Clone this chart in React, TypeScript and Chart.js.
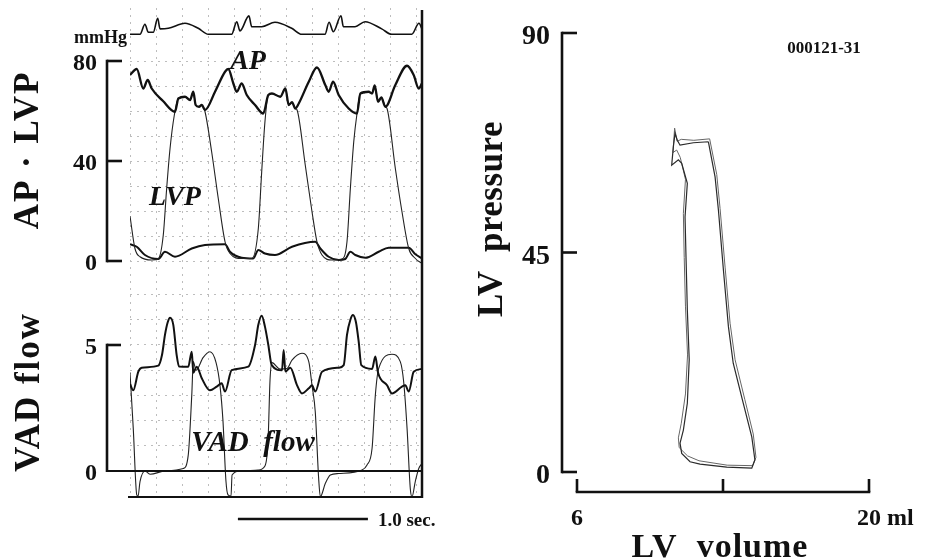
import React, { useEffect, useRef } from "react";
import { Chart, registerables } from "chart.js";

Chart.register(...registerables);

const SERIF = '"Liberation Serif", "Times New Roman", Times, serif';
const INK = "#111111";
const GRID = "#bdbdbd";

// ---------- strip chart (time in seconds) ----------
const ECG_T = [0, 0.077, 0.115, 0.141, 0.179, 0.213, 0.231, 0.295, 0.423, 0.525, 0.602, 0.782, 0.821, 0.846, 0.915, 0.936, 1.013, 1.115, 1.244, 1.321, 1.5, 1.531, 1.564, 1.623, 1.641, 1.731, 1.808, 1.936, 2.013, 2.167, 2.223, 2.246];
const ECG_V = [0, 0, 0.5, 0.1, 0.1, 0.8, 0.27, 0.3, 0.55, 0.3, 0, 0, 0.63, 0.17, 0.92, 0.38, 0.38, 0.6, 0.3, 0, 0, 0.6, 0.13, 0.93, 0.38, 0.38, 0.63, 0.27, 0, 0, 0.55, 0.27];

const AP_T = [0, 0.052, 0.102, 0.136, 0.167, 0.254, 0.346, 0.372, 0.423, 0.462, 0.487, 0.505, 0.531, 0.552, 0.577, 0.654, 0.731, 0.756, 0.795, 0.821, 0.859, 0.898, 0.962, 1.025, 1.064, 1.092, 1.156, 1.195, 1.221, 1.246, 1.272, 1.298, 1.375, 1.438, 1.502, 1.528, 1.562, 1.605, 1.682, 1.746, 1.772, 1.836, 1.862, 1.882, 1.908, 1.933, 1.964, 2.041, 2.131, 2.182, 2.221, 2.246];
const AP_V = [74.4, 76.8, 69, 72.4, 69, 64, 59.7, 65, 65.7, 64.4, 67.7, 62.4, 61.7, 62.4, 60.4, 67.7, 75.7, 76.8, 71, 67.7, 71, 66.4, 62.4, 59, 66.4, 67, 65.7, 69, 62.4, 63.5, 61, 63, 71.7, 77.4, 70.4, 67.7, 71.7, 66.4, 61, 59, 67, 67.7, 67, 70.2, 63.7, 65.4, 61.7, 70.4, 78.1, 74.4, 69, 71];

const LVP_T = [0, 0.038, 0.077, 0.167, 0.218, 0.256, 0.282, 0.308, 0.341, 0.372, 0.423, 0.462, 0.487, 0.505, 0.531, 0.552, 0.577, 0.628, 0.679, 0.731, 0.769, 0.859, 0.936, 0.987, 1.013, 1.038, 1.064, 1.092, 1.156, 1.195, 1.221, 1.246, 1.272, 1.285, 1.348, 1.4, 1.438, 1.477, 1.554, 1.631, 1.669, 1.695, 1.721, 1.746, 1.772, 1.836, 1.862, 1.882, 1.908, 1.933, 1.964, 1.977, 2.041, 2.092, 2.144, 2.195, 2.246];
const LVP_V = [18, 5, 1.7, 0.4, 1, 10.4, 29, 45, 58.4, 65, 65.7, 64.4, 67.7, 62.4, 61.7, 62.4, 59.7, 43.7, 25, 7.7, 3, 1, 1, 13, 35.7, 55.7, 66.4, 67, 65.7, 69, 62.4, 63.5, 61, 60.4, 38.4, 19.7, 7.7, 2.4, 0.4, 0.8, 7.7, 29, 47.7, 59, 67, 67.7, 67, 70.2, 63.7, 65.4, 61.7, 61, 37, 19.7, 5, 1, -1];

const LOW_T = [0, 0.052, 0.115, 0.218, 0.269, 0.346, 0.475, 0.577, 0.731, 0.769, 0.859, 0.948, 0.987, 1.038, 1.115, 1.246, 1.425, 1.464, 1.528, 1.605, 1.656, 1.695, 1.733, 1.81, 1.913, 1.99, 2.144, 2.195, 2.246];
const LOW_V = [6.7, 5.7, 2.4, 0.8, 3.7, 1.7, 5, 6.4, 6.7, 3.7, 1.3, 1, 4.4, 3, 2.4, 5.7, 7.7, 5, 1.7, 0.4, 0.8, 3.7, 2.4, 1.3, 3.7, 5.3, 5.3, 2.7, 1];

const FLOW_THICK_T = [0, 0.025, 0.064, 0.09, 0.218, 0.246, 0.269, 0.29, 0.308, 0.333, 0.359, 0.377, 0.448, 0.475, 0.487, 0.513, 0.552, 0.615, 0.667, 0.705, 0.731, 0.782, 0.91, 0.962, 0.987, 1.013, 1.038, 1.064, 1.09, 1.169, 1.182, 1.195, 1.233, 1.285, 1.323, 1.375, 1.4, 1.425, 1.477, 1.605, 1.644, 1.669, 1.695, 1.715, 1.738, 1.759, 1.779, 1.862, 1.887, 1.908, 1.977, 2.015, 2.092, 2.118, 2.144, 2.182, 2.246];
const FLOW_THICK_V = [3.45, 3.2, 3.94, 4.1, 4.18, 4.6, 5.4, 5.9, 6.08, 5.8, 4.6, 4.15, 4.14, 4.73, 3.9, 4.14, 3.68, 3.2, 3.35, 3.48, 3.15, 4.0, 4.14, 5.0, 5.8, 6.16, 5.73, 5.0, 4.2, 4.0, 4.8, 3.95, 4.1, 3.4, 3.08, 3.28, 3.4, 3.15, 3.94, 4.1, 4.2, 5.4, 6.0, 6.19, 5.9, 5.13, 4.2, 4.05, 4.54, 3.9, 3.4, 3.08, 3.35, 3.4, 3.15, 3.94, 4.05];

const FLOW_THIN_T = [0, 0.025, 0.052, 0.062, 0.077, 0.115, 0.154, 0.269, 0.41, 0.448, 0.475, 0.487, 0.508, 0.562, 0.615, 0.662, 0.692, 0.715, 0.738, 0.754, 0.777, 0.785, 0.846, 0.985, 1.038, 1.062, 1.077, 1.092, 1.154, 1.208, 1.246, 1.323, 1.375, 1.4, 1.425, 1.451, 1.464, 1.502, 1.541, 1.605, 1.785, 1.823, 1.862, 1.887, 1.913, 2.015, 2.079, 2.105, 2.131, 2.156, 2.169, 2.195, 2.221, 2.246];
const FLOW_THIN_V = [3.9, 1.7, -0.95, -1.0, -0.42, 0, -0.13, 0, 0.1, 0.63, 3.0, 4.34, 4.0, 4.5, 4.73, 4.3, 3.4, 2.0, -0.4, -0.95, -1.0, -0.16, 0, 0.04, 0.2, 1.2, 3.6, 4.3, 4.05, 4.07, 4.4, 4.67, 4.34, 3.4, 2.35, -0.29, -1.02, -0.5, -0.16, -0.1, 0.04, 0.24, 0.9, 3.0, 4.07, 4.63, 4.34, 3.54, 1.7, -0.7, -1.02, -0.4, 0.1, 0.3];

const T_MAX = 2.246;
const TIME_GRID = [0, 0.2, 0.4, 0.6, 0.8, 1.0, 1.2, 1.4, 1.6, 1.8, 2.0, 2.2];
const AP_GRID = [0, 10, 20, 30, 40, 50, 60, 70, 80];
const FLOW_GRID = [1, 2, 3, 4, 5, 6, 7];
const AP_TICKS = [0, 40, 80];
const FLOW_TICKS = [0, 5];
const SCALE_BAR_START = 0.83;
const SCALE_BAR_LEN = 1.0;

// ---------- pressure-volume loop ----------
const PV_A_VOL = [12.3, 12.62, 12.78, 13.02, 13.26, 13.49, 13.97, 14.38, 14.53, 14.38, 13.18, 11.9, 11.42, 11.02, 10.94, 11.1, 11.29, 11.38, 11.29, 11.23, 11.18, 11.29, 11.02, 10.86, 10.54, 10.62, 10.7, 10.81, 10.94, 11.58, 12.3];
const PV_A_P = [67.7, 60.5, 53.7, 41.4, 29.8, 22.3, 14.1, 7.2, 2.5, 0.8, 1.0, 1.6, 2.1, 3.8, 5.9, 8.6, 14.1, 23, 33.2, 43.5, 52.3, 59.2, 63.3, 64, 62.9, 66.7, 69.4, 68, 67, 67.5, 67.7];
const PV_B_VOL = [12.36, 12.7, 12.86, 13.1, 13.34, 13.58, 14.05, 14.45, 14.58, 14.42, 13.2, 11.85, 11.3, 10.9, 10.86, 11.0, 11.2, 11.3, 11.2, 11.14, 11.1, 11.2, 10.95, 10.78, 10.6, 10.68, 10.8, 11.0, 11.6, 12.36];
const PV_B_P = [68.3, 61, 54, 42, 30.5, 23, 14.8, 7.8, 3.0, 1.3, 1.4, 2.3, 3.3, 5, 7, 10, 16, 24, 34, 44, 53, 60, 64.5, 66, 65.5, 70.5, 67.8, 68.2, 68, 68.3];

const PV_P_TICKS = [0, 45, 90];
const PV_V_TICKS = [6, 13, 20];
const PV_V_LABELS = ["6", "", "20 ml"];

function pts(xs: number[], ys: number[]) {
  return xs.map((x, i) => ({ x, y: ys[i] }));
}

function seg(ctx: any, x1: number, y1: number, x2: number, y2: number) {
  ctx.beginPath();
  ctx.moveTo(x1, y1);
  ctx.lineTo(x2, y2);
  ctx.stroke();
}

function txt(ctx: any, s: string, x: number, y: number, font: string, align = "center", baseline = "middle", spacing = "0px", rot = 0) {
  ctx.save();
  ctx.font = font;
  ctx.textAlign = align;
  ctx.textBaseline = baseline;
  try { ctx.letterSpacing = spacing; } catch (e) { /* ignore */ }
  ctx.translate(x, y);
  if (rot) ctx.rotate(rot);
  ctx.fillStyle = INK;
  ctx.fillText(s, 0, 0);
  ctx.restore();
}

const stripDecor = {
  id: "stripDecor",
  afterDatasetsDraw(chart: any) {
    const { ctx, chartArea: a, scales } = chart;
    const xs = scales.x, ap = scales.yAP, fl = scales.yFlow, ecg = scales.yEcg;
    ctx.save();
    ctx.strokeStyle = INK;
    ctx.lineCap = "butt";
    // frame
    ctx.lineWidth = 2.5;
    seg(ctx, a.right, a.top + 2, a.right, a.bottom + 1);
    ctx.lineWidth = 2;
    seg(ctx, a.left - 2, a.bottom, a.right, a.bottom);
    const bx = a.left - 23;
    // AP.LVP bracket
    ctx.lineWidth = 2.6;
    const apY = AP_TICKS.map((v) => ap.getPixelForValue(v));
    seg(ctx, bx, Math.max(...apY) + 1.3, bx, Math.min(...apY) - 1.3);
    apY.forEach((y) => seg(ctx, bx, y, bx + 15, y));
    // flow bracket
    const flY = FLOW_TICKS.map((v) => fl.getPixelForValue(v));
    seg(ctx, bx, Math.max(...flY) + 1, bx, Math.min(...flY) - 1.3);
    seg(ctx, bx, flY[1], bx + 14, flY[1]);
    ctx.lineWidth = 2;
    seg(ctx, bx, flY[0], a.right, flY[0]);
    // tick labels
    const tf = `bold 24px ${SERIF}`;
    AP_TICKS.forEach((v, i) => txt(ctx, String(v), bx - 10, apY[i] + 3, tf, "right"));
    FLOW_TICKS.forEach((v, i) => txt(ctx, String(v), bx - 10, flY[i] + 3, tf, "right"));
    // unit
    txt(ctx, "mmHg", a.left - 3, ecg.getPixelForValue(0) + 4, `bold 18px ${SERIF}`, "right");
    // axis titles
    txt(ctx, "AP · LVP", 38, 150, `bold 35px ${SERIF}`, "center", "alphabetic", "2px", -Math.PI / 2);
    txt(ctx, "VAD flow", 39, 392, `bold 35px ${SERIF}`, "center", "alphabetic", "2px", -Math.PI / 2);
    // trace labels
    const bi = `italic bold 28px ${SERIF}`;
    txt(ctx, "AP", xs.getPixelForValue(0.908), ap.getPixelForValue(79.6), bi);
    txt(ctx, "LVP", xs.getPixelForValue(0.346), ap.getPixelForValue(25.2), bi);
    txt(ctx, "VAD  flow", xs.getPixelForValue(0.946), fl.getPixelForValue(1.1), `italic bold 29px ${SERIF}`);
    // time scale bar
    const sy = a.bottom + 22;
    const sx1 = xs.getPixelForValue(SCALE_BAR_START);
    const sx2 = xs.getPixelForValue(SCALE_BAR_START + SCALE_BAR_LEN);
    ctx.lineWidth = 2.5;
    seg(ctx, sx1, sy, sx2, sy);
    txt(ctx, "1.0 sec.", sx2 + 10, sy + 2, `bold 19px ${SERIF}`, "left");
    ctx.restore();
  },
};

const pvDecor = {
  id: "pvDecor",
  afterDatasetsDraw(chart: any) {
    const { ctx, chartArea: a, scales } = chart;
    const xs = scales.x, ys = scales.y;
    ctx.save();
    ctx.strokeStyle = INK;
    ctx.lineWidth = 2.6;
    // y bracket
    const bx = a.left - 15;
    const py = PV_P_TICKS.map((v) => ys.getPixelForValue(v));
    seg(ctx, bx, Math.max(...py) + 1.3, bx, Math.min(...py) - 1.3);
    py.forEach((y) => seg(ctx, bx, y, a.left, y));
    PV_P_TICKS.forEach((v, i) => txt(ctx, String(v), bx - 12, py[i] + 4, `bold 28px ${SERIF}`, "right"));
    // x axis
    const ay = a.bottom + 20;
    const px = PV_V_TICKS.map((v) => xs.getPixelForValue(v));
    seg(ctx, Math.min(...px) - 1.3, ay, Math.max(...px) + 1.3, ay);
    px.forEach((x) => seg(ctx, x, ay, x, ay - 13));
    const xf = `bold 24px ${SERIF}`;
    ctx.font = xf;
    PV_V_LABELS.forEach((l, i) => {
      if (!l) return;
      const num = l.split(" ")[0];
      const w = ctx.measureText(num).width;
      txt(ctx, l, px[i] - w / 2, ay + 27, xf, "left");
    });
    // titles
    txt(ctx, "LV  pressure", 42, 219, `bold 35px ${SERIF}`, "center", "alphabetic", "0.5px", -Math.PI / 2);
    txt(ctx, "LV  volume", (a.left + a.right) / 2 - 3, 557, `bold 34px ${SERIF}`, "center", "alphabetic", "1px");
    txt(ctx, "000121-31", 364, 49, `bold 17px ${SERIF}`);
    ctx.restore();
  },
};

function lineDs(label: string, xs: number[], ys: number[], axis: string, width: number, color: string) {
  return {
    label,
    data: pts(xs, ys),
    yAxisID: axis,
    borderColor: color,
    borderWidth: width,
    pointRadius: 0,
    fill: false,
    cubicInterpolationMode: "monotone",
  };
}

const gridAxis = (min: number, max: number, gridVals: number[], horizontal: boolean) => ({
  type: "linear",
  min,
  max,
  display: true,
  ticks: { display: false },
  grid: { color: GRID, lineWidth: 1, drawTicks: false },
  border: { display: false, dash: [2, 5] },
  afterBuildTicks: (s: any) => {
    s.ticks = gridVals.map((v) => ({ value: v }));
  },
  afterFit: (s: any) => {
    if (horizontal) s.height = 0;
    else s.width = 0;
  },
});

export default function App() {
  const leftRef = useRef<HTMLCanvasElement>(null);
  const rightRef = useRef<HTMLCanvasElement>(null);

  useEffect(() => {
    const strip = new Chart(leftRef.current as HTMLCanvasElement, {
      type: "line",
      data: {
        datasets: [
          lineDs("ECG", ECG_T, ECG_V, "yEcg", 1.6, INK),
          lineDs("AP", AP_T, AP_V, "yAP", 2.3, INK),
          lineDs("LVP", LVP_T, LVP_V, "yAP", 1.1, "#222"),
          lineDs("Low pressure", LOW_T, LOW_V, "yAP", 2, INK),
          lineDs("Flow A", FLOW_THICK_T, FLOW_THICK_V, "yFlow", 2, INK),
          lineDs("VAD flow", FLOW_THIN_T, FLOW_THIN_V, "yFlow", 1.1, "#222"),
        ] as any,
      },
      options: {
        animation: false,
        responsive: false,
        events: [],
        layout: { padding: { left: 130, right: 38, top: 8, bottom: 63 } },
        plugins: { legend: { display: false }, tooltip: { enabled: false } },
        scales: {
          x: gridAxis(0, T_MAX, TIME_GRID, true),
          yEcg: { type: "linear", min: -23.135, max: 1.315, display: false },
          yAP: { ...gridAxis(-94.4, 101.2, AP_GRID, false), position: "left" },
          yFlow: { ...gridAxis(-1.032, 18.373, FLOW_GRID, false), position: "left" },
        } as any,
      },
      plugins: [stripDecor],
    });

    const pv = new Chart(rightRef.current as HTMLCanvasElement, {
      type: "scatter",
      data: {
        datasets: [
          { label: "Loop 1", data: pts(PV_A_VOL, PV_A_P), showLine: true, borderColor: "#2a2a2a", borderWidth: 1.2, pointRadius: 0, tension: 0 },
          { label: "Loop 2", data: pts(PV_B_VOL, PV_B_P), showLine: true, borderColor: "#666", borderWidth: 1, pointRadius: 0, tension: 0 },
        ] as any,
      },
      options: {
        animation: false,
        responsive: false,
        events: [],
        layout: { padding: { left: 117, right: 58, top: 33, bottom: 88 } },
        plugins: { legend: { display: false }, tooltip: { enabled: false } },
        scales: {
          x: { type: "linear", min: 6, max: 20, display: false },
          y: { type: "linear", min: 0, max: 90, display: false },
        },
      },
      plugins: [pvDecor],
    });

    return () => {
      strip.destroy();
      pv.destroy();
    };
  }, []);

  return (
    <div style={{ position: "fixed", left: 0, top: 0, width: 927, height: 560, background: "#fff", overflow: "hidden" }}>
      <canvas ref={leftRef} width={460} height={560} style={{ position: "absolute", left: 0, top: 0, width: 460, height: 560 }} />
      <canvas ref={rightRef} width={467} height={560} style={{ position: "absolute", left: 460, top: 0, width: 467, height: 560 }} />
    </div>
  );
}
